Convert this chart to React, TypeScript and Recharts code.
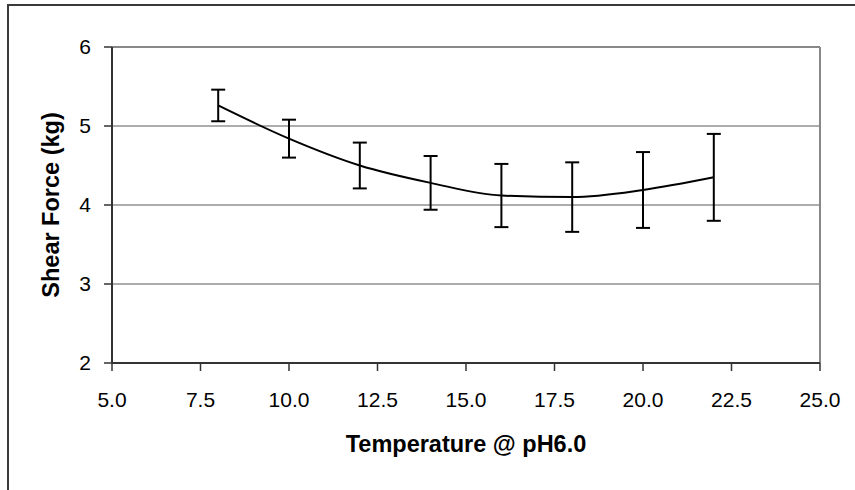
import {
  LineChart,
  Line,
  XAxis,
  YAxis,
  CartesianGrid,
  ErrorBar,
  ReferenceLine,
  Label,
} from "recharts";

const temperatures = [8, 10, 12, 14, 16, 18, 20, 22];
const shearForce = [5.26, 4.84, 4.5, 4.28, 4.12, 4.1, 4.19, 4.35];
const shearError = [0.2, 0.24, 0.29, 0.34, 0.4, 0.44, 0.48, 0.55];
const xTicks = [5, 7.5, 10, 12.5, 15, 17.5, 20, 22.5, 25];
const yTicks = [2, 3, 4, 5, 6];

const data = temperatures.map((temp, i) => ({
  temp,
  shear: shearForce[i],
  err: shearError[i],
}));

const font = "'Liberation Sans', Arial, sans-serif";

const YTitle = (props: any) => {
  const { viewBox } = props;
  const cx = viewBox.x + 51;
  const cy = viewBox.y + viewBox.height / 2;
  return (
    <text
      x={cx}
      y={cy}
      transform={`rotate(-90 ${cx} ${cy})`}
      textAnchor="middle"
      dominantBaseline="central"
      fontFamily={font}
      fontWeight="bold"
      fontSize={23.5}
      fill="#000"
    >
      Shear Force (kg)
    </text>
  );
};

const XTitle = (props: any) => {
  const { viewBox } = props;
  const cx = viewBox.x + viewBox.width / 2;
  return (
    <text
      x={cx}
      y={452}
      textAnchor="middle"
      fontFamily={font}
      fontWeight="bold"
      fontSize={23.5}
      fill="#000"
    >
      Temperature @ pH6.0
    </text>
  );
};

export default function App() {
  return (
    <div
      style={{
        position: "absolute",
        left: 0,
        top: 0,
        width: 855,
        height: 490,
        overflow: "hidden",
        background: "#fff",
      }}
    >
      <div
        style={{
          position: "absolute",
          left: 7,
          top: 4,
          width: 900,
          height: 600,
          border: "2px solid #3a3a3a",
        }}
      />
      <div style={{ position: "absolute", left: 0, top: 0 }}>
        <LineChart
          width={855}
          height={490}
          data={data}
          margin={{ top: 47, right: 35, left: 0, bottom: 0 }}
        >
          <CartesianGrid
            vertical={false}
            stroke="#5a5a5a"
            strokeWidth={1}
          />
          <XAxis
            dataKey="temp"
            type="number"
            domain={[5, 25]}
            ticks={xTicks}
            tickFormatter={(v) => v.toFixed(1)}
            height={127}
            tickSize={8}
            tickMargin={21}
            axisLine={{ stroke: "#333", strokeWidth: 2 }}
            tickLine={{ stroke: "#333", strokeWidth: 1.5 }}
            tick={{ fill: "#000", fontSize: 21, fontFamily: font }}
          >
            <Label content={<XTitle />} />
          </XAxis>
          <YAxis
            type="number"
            domain={[2, 6]}
            ticks={yTicks}
            width={112}
            tickSize={8}
            tickMargin={13}
            axisLine={{ stroke: "#333", strokeWidth: 2 }}
            tickLine={{ stroke: "#333", strokeWidth: 1.5 }}
            tick={{ fill: "#000", fontSize: 21, fontFamily: font }}
          >
            <Label content={<YTitle />} />
          </YAxis>
          <ReferenceLine y={6} stroke="#888" strokeWidth={2} />
          <ReferenceLine x={25} stroke="#888" strokeWidth={2} />
          <Line
            dataKey="shear"
            type="monotone"
            stroke="#000"
            strokeWidth={2}
            dot={false}
            isAnimationActive={false}
          >
            <ErrorBar
              dataKey="err"
              direction="y"
              width={7}
              stroke="#000"
              strokeWidth={2}
              isAnimationActive={false}
            />
          </Line>
        </LineChart>
      </div>
    </div>
  );
}
